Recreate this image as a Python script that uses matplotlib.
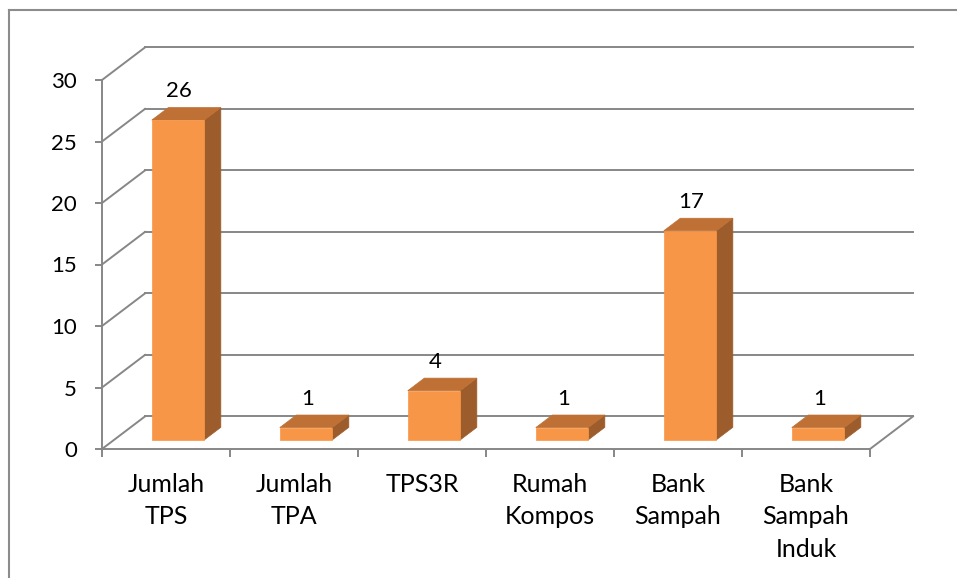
import matplotlib
matplotlib.use("Agg")
import matplotlib.pyplot as plt
from matplotlib.patches import Polygon

# data
categories = ["Jumlah\nTPS", "Jumlah\nTPA", "TPS3R", "Rumah\nKompos", "Bank\nSampah", "Bank\nSampah\nInduk"]
values = [26, 1, 4, 1, 17, 1]
y_ticks = [0, 5, 10, 15, 20, 25, 30]

# style
front_col = "#f79646"
top_col = "#bf7034"
side_col = "#9c5c2b"
grid_col = "#878787"
font = "Lato"
fsize = 16
cat_size = 18

# fake 3d geometry (in data units)
D = 0.336      # wall depth along x (categories)
H = 2.65       # wall depth along y (values)
f0 = 0.28      # bar front position inside the floor depth
fd = 0.385     # bar depth as fraction of floor depth
bar_w = 0.41

plt.rcParams["font.family"] = [font, "DejaVu Sans"]

fig = plt.figure(figsize=(9.57, 5.78), dpi=100)
ax = fig.add_axes([102 / 957, 129 / 578, 768 / 957, 369 / 578])
n = len(categories)
ax.set_xlim(-0.5, n - 0.5)
ax.set_ylim(0, 30)

for s in ["top", "right"]:
    ax.spines[s].set_visible(False)
for s in ["left", "bottom"]:
    ax.spines[s].set_color(grid_col)
    ax.spines[s].set_linewidth(1.4)

ax.set_yticks(y_ticks)
ax.set_yticklabels([str(t) for t in y_ticks])
ax.set_xticks([i - 0.5 for i in range(n + 1)])
ax.set_xticklabels([])
ax.set_xticks(range(n), minor=True)
ax.set_xticklabels(categories, minor=True, linespacing=1.5)
ax.tick_params(axis="y", length=5, width=1.4, color=grid_col, pad=13, labelsize=fsize)
ax.tick_params(axis="x", which="major", length=6, width=1.4, color=grid_col)
ax.tick_params(axis="x", which="minor", length=0, pad=17, labelsize=cat_size)

# back wall gridlines and side wall diagonals
x0, x1 = -0.5, n - 0.5
for t in y_ticks:
    ax.plot([x0 + D, x1 + D], [t + H, t + H], color=grid_col, lw=1.4, zorder=1, clip_on=False)
    ax.plot([x0, x0 + D], [t, t + H], color=grid_col, lw=1.4, zorder=1, clip_on=False)
# right floor edge
ax.plot([x1, x1 + D], [0, H], color=grid_col, lw=1.4, zorder=1, clip_on=False)

# bars
for i, v in enumerate(values):
    bx = i + f0 * D - bar_w / 2
    by = f0 * H
    dx, dy = fd * D, fd * H
    front = [(bx, by), (bx + bar_w, by), (bx + bar_w, by + v), (bx, by + v)]
    top = [(bx, by + v), (bx + bar_w, by + v), (bx + bar_w + dx, by + v + dy), (bx + dx, by + v + dy)]
    side = [(bx + bar_w, by), (bx + bar_w + dx, by + dy), (bx + bar_w + dx, by + v + dy), (bx + bar_w, by + v)]
    for pts, c in [(side, side_col), (top, top_col), (front, front_col)]:
        ax.add_patch(Polygon(pts, closed=True, facecolor=c, edgecolor=c, lw=0.5, zorder=3, clip_on=False))
    ax.text(bx + bar_w / 2 + 0.01, by + v + dy + 0.5, str(v), ha="center", va="bottom",
            fontsize=fsize, zorder=4)

# chart area border (cut by the image edge on the right and bottom)
fig.add_artist(plt.Line2D([9 / 957, 1], [1 - 10 / 578, 1 - 10 / 578], color="#8c8c8c", lw=1.5))
fig.add_artist(plt.Line2D([9 / 957, 9 / 957], [0, 1 - 10 / 578], color="#8c8c8c", lw=1.5))

fig.savefig("out.png", dpi=100)
